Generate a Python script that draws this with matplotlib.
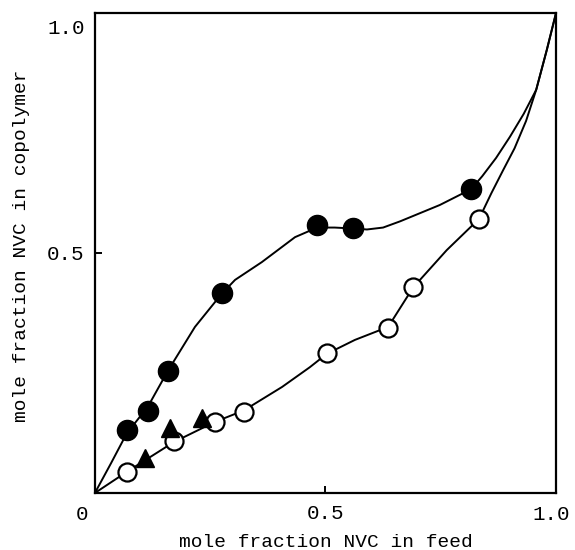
import matplotlib.pyplot as plt

# mole fraction NVC: feed (x) vs copolymer (y)
filled_x = [0.069, 0.115, 0.158, 0.275, 0.482, 0.560, 0.816]
filled_y = [0.131, 0.171, 0.254, 0.417, 0.558, 0.552, 0.633]

open_x = [0.069, 0.171, 0.260, 0.323, 0.503, 0.636, 0.690, 0.833]
open_y = [0.044, 0.108, 0.148, 0.169, 0.292, 0.344, 0.429, 0.571]

tri_x = [0.108, 0.163, 0.232]
tri_y = [0.073, 0.135, 0.156]

# drawn curves
upper_x = [0.0, 0.035, 0.069, 0.115, 0.158, 0.217, 0.275, 0.304, 0.362, 0.434, 0.482,
           0.52, 0.56, 0.59, 0.625, 0.662, 0.748, 0.816, 0.84, 0.87, 0.90, 0.93,
           0.957, 0.98, 1.0]
upper_y = [0.0, 0.062, 0.124, 0.18, 0.254, 0.346, 0.415, 0.444, 0.481, 0.533, 0.553,
           0.553, 0.551, 0.549, 0.553, 0.566, 0.6, 0.633, 0.66, 0.698, 0.742, 0.79,
           0.84, 0.923, 1.0]

lower_x = [0.0, 0.069, 0.171, 0.26, 0.323, 0.406, 0.466, 0.503, 0.564, 0.636, 0.690,
           0.763, 0.833, 0.86, 0.885, 0.91, 0.935, 0.957, 0.98, 1.0]
lower_y = [0.0, 0.044, 0.106, 0.148, 0.172, 0.221, 0.262, 0.29, 0.319, 0.346, 0.428,
           0.506, 0.571, 0.625, 0.672, 0.718, 0.775, 0.84, 0.923, 1.0]

xtick_pos = [0.5]
xtick_lab = ["0.5"]
ytick_pos = [0.5]
ytick_lab = ["0.5"]

plt.rcParams['font.family'] = ['Liberation Mono', 'DejaVu Sans Mono']

fig = plt.figure(figsize=(5.75, 5.5), dpi=100)
ax = fig.add_axes([0.165, 0.1036, 0.802, 0.8728])

ax.plot(upper_x, upper_y, color='black', lw=1.4, zorder=2)
ax.plot(lower_x, lower_y, color='black', lw=1.4, zorder=2)

ax.plot(open_x, open_y, 'o', ms=13, mfc='white', mec='black', mew=1.6, zorder=3)
ax.plot(tri_x, tri_y, '^', ms=13, color='black', zorder=4)
ax.plot(filled_x, filled_y, 'o', ms=14.5, color='black', zorder=4)

ax.set_xlim(0, 1)
ax.set_ylim(0, 1)
for s in ax.spines.values():
    s.set_linewidth(1.6)

ax.set_xticks(xtick_pos)
ax.set_xticklabels(xtick_lab)
ax.set_yticks(ytick_pos)
ax.set_yticklabels(ytick_lab)
ax.tick_params(direction='in', length=5, width=1.4, labelsize=15, pad=8)

# corner and end labels, placed as in the original print
ax.text(-0.015, -0.025, "0", ha='right', va='top', fontsize=15)
ax.text(0.99, -0.025, "1.0", ha='center', va='top', fontsize=15)
ax.text(-0.022, 0.967, "1.0", ha='right', va='center', fontsize=15)

ax.set_xlabel("mole fraction NVC in feed", fontsize=14, labelpad=8)
ax.set_ylabel("mole fraction NVC in copolymer", fontsize=14)
ax.yaxis.set_label_coords(-0.14, 0.515)

fig.savefig("out.png", dpi=100)
